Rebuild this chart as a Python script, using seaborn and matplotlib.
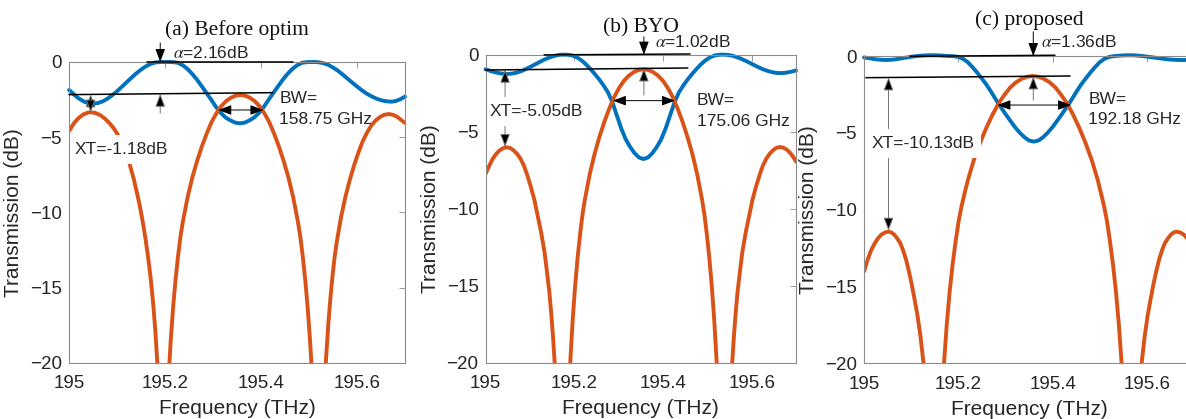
import matplotlib
matplotlib.use("Agg")
import matplotlib.pyplot as plt
import seaborn as sns

BAR_COLOR = "#0072BD"
CROSS_COLOR = "#D95319"

# ---- values: frequency (THz) / transmission (dB) ----
# (a) Before optim
fa_bar = [195.000, 195.010, 195.020, 195.030, 195.040, 195.047, 195.060, 195.070, 195.080, 195.090,
          195.100, 195.110, 195.120, 195.130, 195.140, 195.150, 195.160, 195.170, 195.180, 195.192,
          195.206, 195.216, 195.226, 195.236, 195.246, 195.256, 195.266, 195.276, 195.286, 195.296,
          195.306, 195.316, 195.326, 195.336, 195.346, 195.356, 195.366, 195.376, 195.386, 195.396,
          195.406, 195.416, 195.426, 195.436, 195.446, 195.456, 195.466, 195.476, 195.486, 195.496,
          195.512, 195.520, 195.530, 195.540, 195.550, 195.560, 195.570, 195.580, 195.590, 195.600,
          195.610, 195.620, 195.630, 195.640, 195.650, 195.660, 195.672, 195.680, 195.690, 195.700]
ta_bar = [-1.86, -2.15, -2.42, -2.61, -2.75, -2.79, -2.73, -2.62, -2.44, -2.21,
          -1.95, -1.65, -1.35, -1.05, -0.76, -0.51, -0.29, -0.13, -0.03, 0.00,
          0.00, -0.01, -0.05, -0.20, -0.44, -0.77, -1.15, -1.59, -2.04, -2.50,
          -2.98, -3.38, -3.68, -3.88, -4.03, -4.08, -4.03, -3.88, -3.68, -3.38,
          -2.98, -2.50, -2.04, -1.59, -1.15, -0.77, -0.44, -0.20, -0.05, -0.01,
          0.00, -0.02, -0.08, -0.19, -0.37, -0.58, -0.83, -1.10, -1.37, -1.63,
          -1.88, -2.10, -2.28, -2.43, -2.54, -2.61, -2.64, -2.60, -2.48, -2.30]
fa_cross = [195.000, 195.010, 195.020, 195.030, 195.040, 195.045, 195.055, 195.065, 195.075, 195.085,
            195.095, 195.105, 195.115, 195.125, 195.135, 195.145, 195.150, 195.155, 195.160, 195.165,
            195.170, 195.175, 195.180, 195.185, 195.190, 195.195,
            195.197, 195.202, 195.207, 195.212, 195.217, 195.222, 195.227, 195.232, 195.237, 195.247,
            195.257, 195.267, 195.277, 195.287, 195.297, 195.307, 195.317, 195.327, 195.337, 195.347,
            195.357, 195.367, 195.377, 195.387, 195.397, 195.407, 195.417, 195.427, 195.437, 195.447,
            195.457, 195.467, 195.477, 195.482, 195.487, 195.492, 195.497, 195.502, 195.507, 195.512,
            195.517, 195.520,
            195.522, 195.5265, 195.531, 195.5355, 195.540, 195.5445, 195.549, 195.5535, 195.558, 195.567,
            195.576, 195.585, 195.594, 195.603, 195.612, 195.621, 195.630, 195.639, 195.648, 195.657,
            195.666, 195.675, 195.684, 195.693, 195.700]
ta_cross = [-4.60, -4.08, -3.72, -3.48, -3.36, -3.34, -3.39, -3.53, -3.77, -4.09,
            -4.49, -5.02, -5.72, -6.64, -7.79, -9.19, -9.99, -10.89, -11.89, -13.04,
            -14.34, -15.94, -17.94, -20.54, -24.34, -45.00,
            -33.19, -25.19, -21.19, -18.44, -16.24, -14.44, -12.94, -11.64, -10.64, -8.99,
            -7.66, -6.56, -5.59, -4.74, -3.99, -3.41, -2.94, -2.61, -2.38, -2.24,
            -2.19, -2.24, -2.38, -2.61, -2.94, -3.41, -3.99, -4.74, -5.59, -6.56,
            -7.66, -8.99, -10.64, -11.64, -12.94, -14.44, -16.24, -18.44, -21.19, -25.19,
            -33.19, -45.00,
            -34.46, -26.46, -22.46, -19.71, -17.51, -15.71, -14.21, -12.91, -11.91, -10.26,
            -8.93, -7.83, -6.86, -6.01, -5.26, -4.68, -4.21, -3.88, -3.65, -3.51,
            -3.46, -3.51, -3.65, -3.88, -4.05]

# (b) BYO
fb_bar = [195.000, 195.010, 195.020, 195.030, 195.040, 195.048, 195.060, 195.070, 195.080, 195.090,
          195.100, 195.110, 195.120, 195.130, 195.140, 195.150, 195.160, 195.168, 195.176, 195.186,
          195.196, 195.206, 195.216, 195.226, 195.236, 195.246, 195.256, 195.266, 195.276, 195.286,
          195.296, 195.306, 195.316, 195.326, 195.336, 195.346, 195.356, 195.366, 195.376, 195.386,
          195.396, 195.406, 195.416, 195.426, 195.436, 195.446, 195.456, 195.466, 195.476, 195.486,
          195.496, 195.506, 195.516, 195.526, 195.536, 195.546, 195.556, 195.566, 195.576, 195.586,
          195.596, 195.606, 195.616, 195.626, 195.636, 195.646, 195.656, 195.664, 195.674, 195.684,
          195.692, 195.700]
tb_bar = [-0.95, -1.05, -1.14, -1.20, -1.24, -1.26, -1.23, -1.17, -1.08, -0.95,
          -0.81, -0.66, -0.51, -0.36, -0.23, -0.13, -0.05, -0.01, 0.00, -0.01,
          -0.06, -0.18, -0.37, -0.62, -0.92, -1.25, -1.60, -2.00, -2.45, -3.10,
          -3.95, -4.80, -5.50, -6.00, -6.40, -6.68, -6.78, -6.68, -6.40, -6.00,
          -5.50, -4.80, -3.95, -3.10, -2.45, -2.00, -1.60, -1.25, -0.92, -0.62,
          -0.37, -0.18, -0.06, -0.01, 0.00, -0.02, -0.07, -0.16, -0.27, -0.40,
          -0.54, -0.69, -0.83, -0.96, -1.06, -1.14, -1.19, -1.20, -1.19, -1.14,
          -1.09, -1.03]
fb_cross = [195.000, 195.008, 195.016, 195.024, 195.032, 195.040, 195.048, 195.056, 195.063, 195.071,
            195.079, 195.087, 195.094, 195.102, 195.110, 195.117, 195.125, 195.133, 195.140, 195.144,
            195.148, 195.152, 195.156, 195.160, 195.164, 195.167, 195.171, 195.176,
            195.180, 195.1855, 195.191, 195.1965, 195.202, 195.2075, 195.213, 195.2185, 195.224, 195.235,
            195.246, 195.257, 195.268, 195.279, 195.290, 195.301, 195.312, 195.323, 195.334, 195.345,
            195.356, 195.367, 195.378, 195.389, 195.400, 195.411, 195.422, 195.433, 195.444, 195.455,
            195.466, 195.477, 195.488, 195.4935, 195.499, 195.5045, 195.510, 195.5155, 195.521, 195.5265,
            195.532, 195.537,
            195.541, 195.545, 195.548, 195.552, 195.556, 195.560, 195.564, 195.568, 195.572, 195.579,
            195.587, 195.595, 195.602, 195.610, 195.618, 195.625, 195.633, 195.641, 195.649, 195.656,
            195.664, 195.672, 195.680, 195.688, 195.696, 195.700]
tb_cross = [-7.75, -7.24, -6.77, -6.44, -6.21, -6.07, -6.02, -6.07, -6.21, -6.44,
            -6.77, -7.24, -7.82, -8.57, -9.42, -10.39, -11.49, -12.82, -14.47, -15.47,
            -16.77, -18.27, -20.07, -22.27, -25.02, -29.02, -37.00, -45.00,
            -31.95, -23.95, -19.95, -17.20, -15.00, -13.20, -11.70, -10.40, -9.40, -7.75,
            -6.42, -5.32, -4.35, -3.50, -2.75, -2.17, -1.70, -1.37, -1.14, -1.00,
            -0.95, -1.00, -1.14, -1.37, -1.70, -2.17, -2.75, -3.50, -4.35, -5.32,
            -6.42, -7.75, -9.40, -10.40, -11.70, -13.20, -15.00, -17.20, -19.95, -23.95,
            -31.95, -45.00,
            -37.00, -29.00, -25.00, -22.25, -20.05, -18.25, -16.75, -15.45, -14.45, -12.80,
            -11.47, -10.37, -9.40, -8.55, -7.80, -7.22, -6.75, -6.42, -6.19, -6.05,
            -6.00, -6.05, -6.19, -6.42, -6.75, -6.95]

# (c) proposed
fc_bar = [195.000, 195.010, 195.020, 195.030, 195.040, 195.048, 195.060, 195.070, 195.080, 195.090,
          195.100, 195.110, 195.120, 195.130, 195.140, 195.150, 195.160, 195.170, 195.180, 195.190,
          195.200, 195.210, 195.220, 195.230, 195.240, 195.250, 195.260, 195.270, 195.280, 195.290,
          195.300, 195.310, 195.320, 195.330, 195.340, 195.350, 195.360, 195.370, 195.380, 195.390,
          195.400, 195.410, 195.420, 195.430, 195.440, 195.450, 195.460, 195.470, 195.480, 195.490,
          195.500, 195.510, 195.520, 195.530, 195.540, 195.550, 195.560, 195.570, 195.580, 195.590,
          195.600, 195.610, 195.620, 195.630, 195.640, 195.650, 195.660, 195.670, 195.680, 195.690,
          195.700]
tc_bar = [-0.09, -0.14, -0.19, -0.23, -0.25, -0.26, -0.24, -0.20, -0.15, -0.10,
          -0.05, -0.01, 0.02, 0.04, 0.05, 0.05, 0.04, 0.02, 0.00, -0.01,
          -0.06, -0.18, -0.40, -0.72, -1.08, -1.47, -1.88, -2.35, -2.85, -3.32,
          -3.77, -4.20, -4.62, -4.98, -5.28, -5.50, -5.57, -5.50, -5.28, -4.98,
          -4.62, -4.20, -3.77, -3.32, -2.85, -2.35, -1.88, -1.47, -1.08, -0.72,
          -0.40, -0.18, -0.06, -0.01, 0.02, 0.04, 0.05, 0.05, 0.03, 0.00,
          -0.04, -0.08, -0.12, -0.16, -0.20, -0.23, -0.25, -0.26, -0.26, -0.25,
          -0.23]
fc_cross = [195.000, 195.008, 195.015, 195.023, 195.030, 195.037, 195.045, 195.052, 195.058, 195.064,
            195.070, 195.077, 195.083, 195.089, 195.095, 195.101, 195.107, 195.1135, 195.1197, 195.1258,
            195.1289, 195.132, 195.135, 195.1381, 195.1412, 195.1443, 195.1473, 195.1504, 195.1526,
            195.1564, 195.1627, 195.169, 195.1753, 195.1816, 195.188, 195.1944, 195.2007, 195.207, 195.220,
            195.233, 195.246, 195.259, 195.272, 195.285, 195.298, 195.310, 195.322, 195.334, 195.346,
            195.358, 195.370, 195.382, 195.394, 195.406, 195.418, 195.431, 195.444, 195.457, 195.470,
            195.483, 195.496, 195.509, 195.5153, 195.5216, 195.528, 195.5344, 195.5407, 195.547, 195.5533,
            195.5596, 195.5632,
            195.5646, 195.5677, 195.5708, 195.5738, 195.5769, 195.580, 195.583, 195.5861, 195.5892, 195.5953,
            195.6015, 195.608, 195.614, 195.620, 195.626, 195.632, 195.638, 195.645, 195.651, 195.657,
            195.663, 195.670, 195.678, 195.685, 195.692, 195.700]
tc_cross = [-14.03, -13.23, -12.65, -12.18, -11.85, -11.62, -11.48, -11.43, -11.48, -11.62,
            -11.85, -12.18, -12.65, -13.23, -13.98, -14.83, -15.80, -16.90, -18.23, -19.88,
            -20.88, -22.18, -23.68, -25.48, -27.68, -30.43, -34.43, -42.43, -48.00,
            -32.30, -24.30, -20.30, -17.55, -15.35, -13.55, -12.05, -10.75, -9.75, -8.10,
            -6.77, -5.67, -4.70, -3.85, -3.10, -2.52, -2.05, -1.72, -1.49, -1.35,
            -1.30, -1.35, -1.49, -1.72, -2.05, -2.52, -3.10, -3.85, -4.70, -5.67,
            -6.77, -8.10, -9.75, -10.75, -12.05, -13.55, -15.35, -17.55, -20.30, -24.30,
            -32.30, -48.00,
            -42.43, -34.43, -30.43, -27.68, -25.48, -23.68, -22.18, -20.88, -19.88, -18.23,
            -16.90, -15.80, -14.83, -13.98, -13.23, -12.65, -12.18, -11.85, -11.62, -11.48,
            -11.43, -11.48, -11.62, -11.85, -12.18, -12.65]

titles = ["(a) Before optim", "(b) BYO", "(c) proposed"]
alpha_labels = [r"$\alpha$=2.16dB", r"$\alpha$=1.02dB", r"$\alpha$=1.36dB"]
xt_labels = ["XT=-1.18dB", "XT=-5.05dB", "XT=-10.13dB"]
bw_labels = ["158.75 GHz", "175.06 GHz", "192.18 GHz"]
x_ticks = [195, 195.2, 195.4, 195.6]
x_ticklabels = ["195", "195.2", "195.4", "195.6"]
y_ticks = [-20, -15, -10, -5, 0]

# annotation geometry (data coords) per panel
layout = [
    dict(rect=[0.0582, 0.1337, 0.2833, 0.7184], title_y=1.105,
         top=([195.162, 195.467], [0.0, 0.0]), mid=([195.0, 195.424], [-2.17, -2.04]),
         a_x=195.19, a_top=1.26, a_txt=(195.217, 0.6), up=(-3.41, -2.11),
         xt_x=195.045, xt=(-2.15, -3.36), xt_txt=(195.0125, -5.8),
         bw_y=-3.19, bw=(195.311, 195.405), bw_txt=(195.438, -2.46, -3.81)),
    dict(rect=[0.4094, 0.1344, 0.2618, 0.7353], title_y=1.087,
         top=([195.132, 195.461], [-0.02, 0.04]), mid=([195.0, 195.456], [-1.0, -0.87]),
         a_x=195.357, a_top=1.16, a_txt=(195.382, 0.84), up=(-2.62, -0.90),
         xt_x=195.044, xt=(-0.98, -6.0), xt_txt=(195.01, -3.71),
         bw_y=-2.99, bw=(195.287, 195.427), bw_txt=(195.476, -2.95, -4.36)),
    dict(rect=[0.7285, 0.1329, 0.2783, 0.7334], title_y=1.117,
         top=([195.098, 195.405], [-0.02, 0.05]), mid=([195.004, 195.437], [-1.41, -1.30]),
         a_x=195.359, a_top=1.58, a_txt=(195.375, 0.93), up=(-2.86, -1.33),
         xt_x=195.052, xt=(-1.39, -11.37), xt_txt=(195.016, -5.68),
         bw_y=-3.19, bw=(195.283, 195.439), bw_txt=(195.476, -2.80, -4.16)),
]


def arrow(ax, start, end, both=False, shaft="k", z=3):
    style = "<|-|>" if both else "-|>"
    ax.annotate("", xy=end, xytext=start, annotation_clip=False, zorder=z,
                arrowprops=dict(arrowstyle=style + ",head_length=0.8,head_width=0.3",
                                fc="k", ec=shaft, lw=0.7, shrinkA=0, shrinkB=0,
                                mutation_scale=10))


def draw_panel(fig, f_bar, t_bar, f_cross, t_cross, i):
    lay = layout[i]
    ax = fig.add_axes(lay["rect"])

    sns.lineplot(x=f_bar, y=t_bar, ax=ax, color=BAR_COLOR, linewidth=2.8,
                 estimator=None, sort=False, clip_on=False, zorder=2)
    sns.lineplot(x=f_cross, y=t_cross, ax=ax, color=CROSS_COLOR, linewidth=2.8,
                 estimator=None, sort=False, zorder=2.05)

    ax.set_xlim(195, 195.7)
    ax.set_ylim(-20, 0)
    ax.set_xticks(x_ticks)
    ax.set_xticklabels(x_ticklabels)
    ax.set_yticks(y_ticks)
    ax.tick_params(direction="in", top=True, right=True, length=4, width=0.6,
                   color="#8c8c8c", labelcolor="#262626", labelsize=13.5, pad=5)
    ax.tick_params(axis="x", pad=9)
    for sp in ax.spines.values():
        sp.set_color("#8c8c8c")
        sp.set_linewidth(0.8)
        sp.set_visible(True)
    ax.set_xlabel("Frequency (THz)", fontsize=15, color="#262626", labelpad=5)
    ax.set_ylabel("Transmission (dB)", fontsize=15, color="#262626", labelpad=5)
    ax.set_title(titles[i], y=lay["title_y"], va="center", pad=0,
                 fontsize=15.5, family="Liberation Serif", color="#111111")

    # reference lines
    ax.plot(*lay["top"], color="k", lw=1.1, clip_on=False, zorder=2.6)
    ax.plot(*lay["mid"], color="k", lw=1.1, clip_on=False, zorder=2.6)

    # loss marker
    arrow(ax, (lay["a_x"], lay["a_top"]), (lay["a_x"], 0.0))
    ax.text(*lay["a_txt"], alpha_labels[i], fontsize=12.5, va="center", ha="left")
    arrow(ax, (lay["a_x"], lay["up"][0]), (lay["a_x"], lay["up"][1]), shaft="0.45")

    # crosstalk marker
    arrow(ax, (lay["xt_x"], lay["xt"][0]), (lay["xt_x"], lay["xt"][1]),
          both=True, shaft="0.45", z=2.2)
    ax.text(*lay["xt_txt"], xt_labels[i], fontsize=12.5, va="center", ha="left", zorder=2.3,
            bbox=dict(facecolor="white", edgecolor="none", pad=5))

    # bandwidth marker
    arrow(ax, (lay["bw"][0], lay["bw_y"]), (lay["bw"][1], lay["bw_y"]), both=True)
    bx, by1, by2 = lay["bw_txt"]
    ax.text(bx, by1, "BW=", fontsize=12.5, va="center", ha="left")
    ax.text(bx, by2, bw_labels[i], fontsize=12.5, va="center", ha="left")
    return ax


def main():
    sns.set_style("white")
    plt.rcParams["font.family"] = ["Liberation Sans", "DejaVu Sans"]
    plt.rcParams["mathtext.fontset"] = "stix"

    fig = plt.figure(figsize=(11.86, 4.19), dpi=100)
    draw_panel(fig, fa_bar, ta_bar, fa_cross, ta_cross, 0)
    draw_panel(fig, fb_bar, tb_bar, fb_cross, tb_cross, 1)
    draw_panel(fig, fc_bar, tc_bar, fc_cross, tc_cross, 2)

    fig.savefig("out.png", dpi=100)


if __name__ == "__main__":
    main()
